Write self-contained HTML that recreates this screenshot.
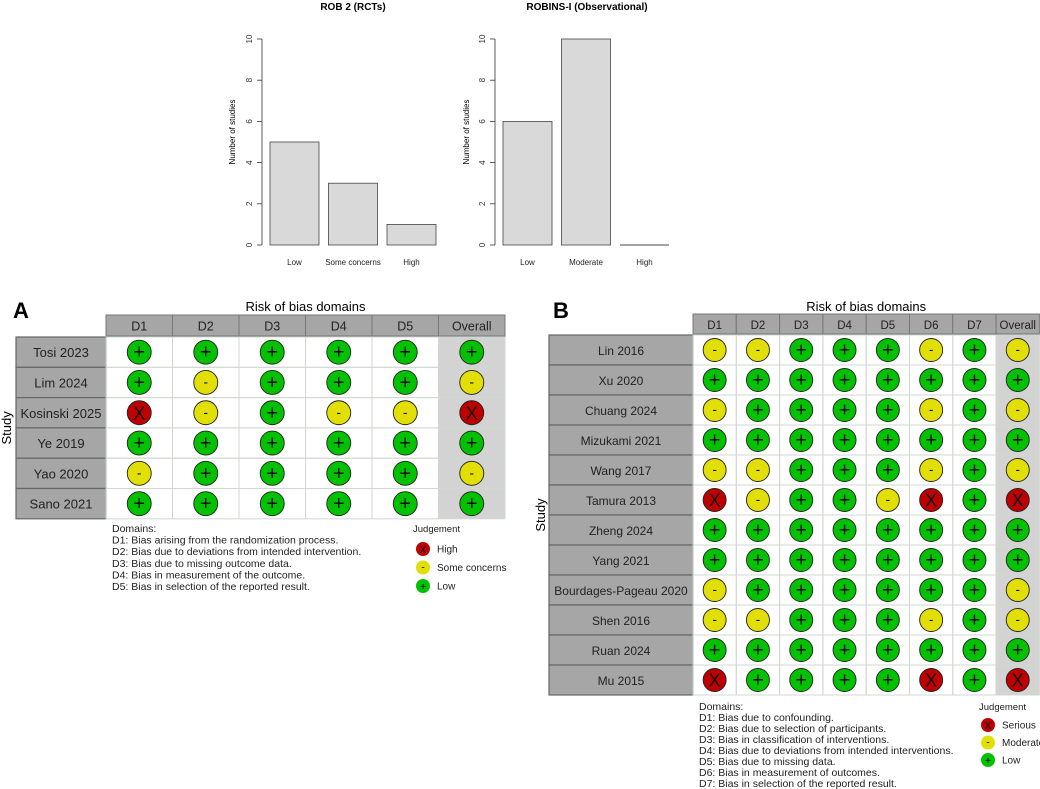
<!DOCTYPE html>
<html><head><meta charset="utf-8"><style>
html,body{margin:0;padding:0;background:#fff;width:1040px;height:789px;overflow:hidden}
svg{display:block;font-family:"Liberation Sans",sans-serif}
</style></head><body>
<svg id="s" width="1040" height="789" viewBox="0 0 1040 789" xmlns="http://www.w3.org/2000/svg"></svg>
<script>
const robCats=["Low","Some concerns","High"];
const robVals=[5,3,1];
const robinsCats=["Low","Moderate","High"];
const robinsVals=[6,10,0];
const yTicks=[0,2,4,6,8,10];

const aDomains=["D1","D2","D3","D4","D5","Overall"];
const aStudies=["Tosi 2023","Lim 2024","Kosinski 2025","Ye 2019","Yao 2020","Sano 2021"];
const aJudg=["++++++","+-+++-","x-+--x","++++++","-++++-","++++++"];
const bDomains=["D1","D2","D3","D4","D5","D6","D7","Overall"];
const bStudies=["Lin 2016","Xu 2020","Chuang 2024","Mizukami 2021","Wang 2017","Tamura 2013","Zheng 2024","Yang 2021","Bourdages-Pageau 2020","Shen 2016","Ruan 2024","Mu 2015"];
const bJudg=["--+++-+-","++++++++","-++++-+-","++++++++","--+++-+-","x-++-x+x","++++++++","++++++++","-++++++-","--+++-+-","++++++++","x++++x+x"];
const aText=["Domains:","D1: Bias arising from the randomization process.","D2: Bias due to deviations from intended intervention.","D3: Bias due to missing outcome data.","D4: Bias in measurement of the outcome.","D5: Bias in selection of the reported result."];
const bText=["Domains:","D1: Bias due to confounding.","D2: Bias due to selection of participants.","D3: Bias in classification of interventions.","D4: Bias due to deviations from intended interventions.","D5: Bias due to missing data.","D6: Bias in measurement of outcomes.","D7: Bias in selection of the reported result."];

const S=document.getElementById('s');const NS="http://www.w3.org/2000/svg";
function el(t,a,txt){const e=document.createElementNS(NS,t);for(const k in a)e.setAttribute(k,a[k]);if(txt!==undefined)e.textContent=txt;S.appendChild(e);return e;}
const COL={"+":"#02C100","-":"#E2DF07","x":"#BF0000"};
const SYM={"+":"+","-":"-","x":"X"};

function bar(title,cats,vals,axisX,x0,titleX,ylabX,nm){
  const y=v=>245-v*20.6;
  let e=el('text',{x:titleX,y:10,'text-anchor':'middle','font-size':10,'font-weight':'bold'},title);
  
  e=el('line',{x1:axisX,x2:axisX,y1:y(0),y2:y(10),stroke:'#333','stroke-width':0.8});
  
  yTicks.forEach(t=>{
    el('line',{x1:axisX-5,x2:axisX,y1:y(t),y2:y(t),stroke:'#333','stroke-width':0.8});
    e=el('text',{x:0,y:0,transform:`translate(${axisX-10},${y(t)}) rotate(-90)`,'text-anchor':'middle','font-size':8,fill:'#333'},t);
    
  });
  e=el('text',{x:0,y:0,transform:`translate(${ylabX},132) rotate(-90)`,'text-anchor':'middle','font-size':8},'Number of studies');
  
  cats.forEach((c,i)=>{
    const bx=x0+i*58.5;
    const h=y(0)-y(vals[i]);
    let r;
    if(h>0){r=el('rect',{x:bx,y:y(vals[i]),width:49,height:h,fill:'#d9d9d9',stroke:'#444','stroke-width':0.8});}
    else{r=el('line',{x1:bx,x2:bx+49,y1:y(0),y2:y(0),stroke:'#444','stroke-width':1});}
    
    e=el('text',{x:bx+24.5,y:265,'text-anchor':'middle','font-size':8,fill:'#222'},c);
    
  });
}
bar("ROB 2 (RCTs)",robCats,robVals,262,270,353,235,'rob2');
bar("ROBINS-I (Observational)",robinsCats,robinsVals,495,503,587,469,'robins');

function grid(o){
  let e=el('text',{x:o.letterX,y:318,'font-size':22,'font-weight':'bold'},o.letter);
  
  const gx=o.gx,cw=o.cw,rh=o.rh,nd=o.domains.length;
  e=el('text',{x:gx+cw*nd/2,y:311,'text-anchor':'middle','font-size':13},'Risk of bias domains');
  
  o.domains.forEach((d,i)=>{
    el('rect',{x:gx+i*cw,y:o.hy,width:cw,height:o.hh,fill:'#a6a6a6',stroke:'#777','stroke-width':1});
    e=el('text',{x:gx+i*cw+cw/2,y:o.hy+o.hh/2+5,'text-anchor':'middle','font-size':o.hf,fill:'#222'},d);
    
  });
  const nr=o.studies.length;
  el('rect',{x:gx+(nd-1)*cw,y:o.ry,width:cw,height:rh*nr,fill:'#d3d3d3'});
  o.studies.forEach((s,r)=>{
    const ty=o.ry+r*rh;
    el('rect',{x:o.sx,y:ty,width:gx-o.sx,height:rh,fill:'#a6a6a6',stroke:'#666','stroke-width':1.2});
    e=el('text',{x:(o.sx+gx)/2,y:ty+rh/2+5,'text-anchor':'middle','font-size':o.sf,fill:'#222'},s);
    
    for(let c=0;c<nd;c++){
      el('rect',{x:gx+c*cw,y:ty,width:cw,height:rh,fill:'none',stroke:'#d0d8d0','stroke-width':1});
      const j=o.judg[r][c];const cx=gx+c*cw+cw/2,cy=ty+rh/2;
      const ci=el('circle',{cx:cx,cy:cy,r:o.cr,fill:COL[j],stroke:'#222','stroke-width':0.9});
      
      el('text',{x:cx,y:cy+(j=='-'?4:6.5),'text-anchor':'middle','font-size':j=='-'?14:j=='x'?18:20,fill:'#111'},SYM[j]);
    }
  });
  e=el('text',{x:0,y:0,transform:`translate(${o.studyX},${o.ry+rh*nr/2}) rotate(-90)`,'text-anchor':'middle','font-size':13},'Study');
  
  o.text.forEach((t,i)=>{
    e=el('text',{x:o.tx,y:o.ty+i*o.tl,'font-size':10.5,fill:'#222'},t);
    
  });
  e=el('text',{x:o.lx,y:o.ty,'font-size':9.5,fill:'#222'},'Judgement');
  
  o.leg.forEach((l,i)=>{
    const cy=o.ly+i*o.ls;
    el('circle',{cx:o.lcx,cy:cy,r:7,fill:COL[l[0]]});
    el('text',{x:o.lcx,y:cy+(l[0]=='-'?3:4),'text-anchor':'middle','font-size':10},SYM[l[0]]);
    e=el('text',{x:o.lcx+14,y:cy+3.5,'font-size':10,fill:'#222'},l[1]);
    
  });
}
grid({letter:'A',letterX:13,gx:106,cw:66.5,hy:315,hh:21,hf:12.5,ry:337,rh:30.3,sx:16,sf:13,cr:12,domains:aDomains,studies:aStudies,judg:aJudg,studyX:11,
  text:aText,tx:112,ty:532,tl:11.6,lx:413,lcx:423,ly:549,ls:18.5,leg:[['x','High'],['-','Some concerns'],['+','Low']]});
grid({letter:'B',letterX:553,gx:693,cw:43.3,hy:314,hh:20,hf:11.5,ry:335,rh:30,sx:549,sf:12,cr:11.5,domains:bDomains,studies:bStudies,judg:bJudg,studyX:545,
  text:bText,tx:699,ty:710,tl:11,lx:979,lcx:988,ly:725,ls:17.5,leg:[['x','Serious'],['-','Moderate'],['+','Low']]});
</script>
</body></html>
